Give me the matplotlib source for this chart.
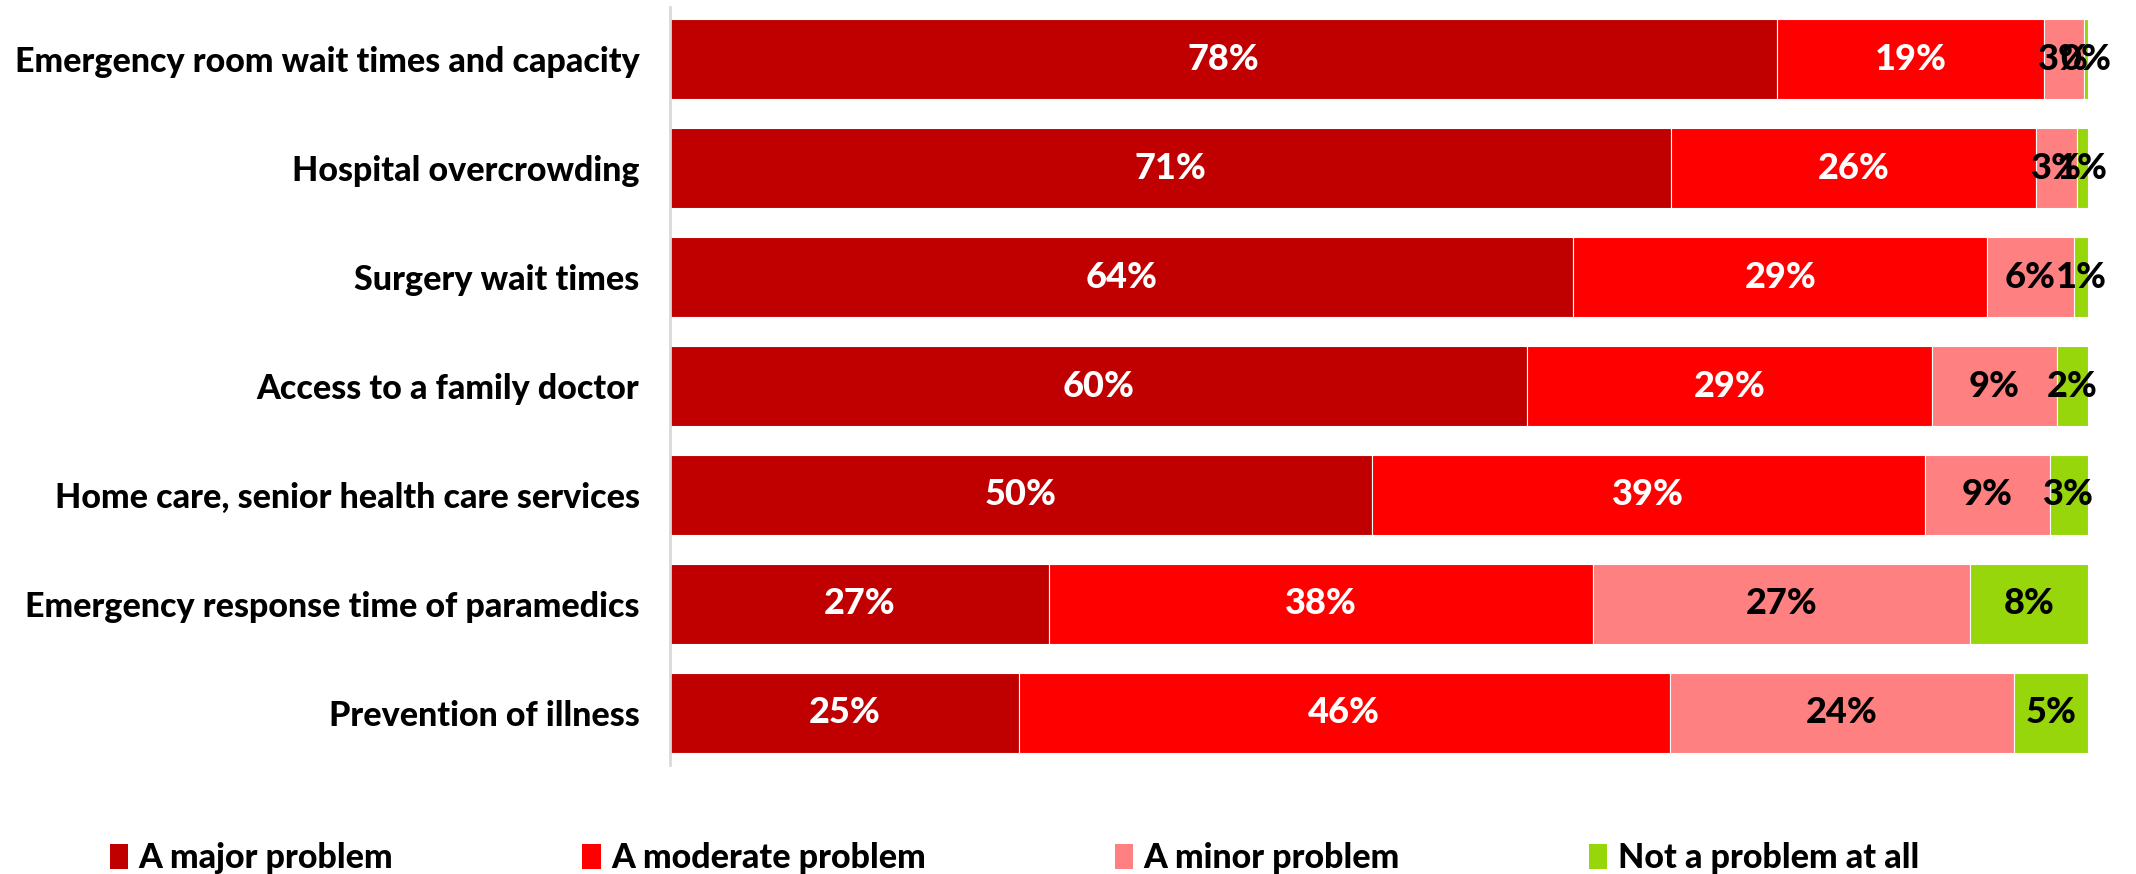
import matplotlib.pyplot as plt
import numpy as np

categories = [
    "Emergency room wait times and capacity",
    "Hospital overcrowding",
    "Surgery wait times",
    "Access to a family doctor",
    "Home care, senior health care services",
    "Emergency response time of paramedics",
    "Prevention of illness",
]
# shares (labels are the rounded values)
major = [78.1, 70.6, 63.7, 60.4, 49.5, 26.7, 24.6]
moderate = [18.8, 25.7, 29.2, 28.6, 39.0, 38.4, 45.9]
minor = [2.8, 2.9, 6.1, 8.8, 8.8, 26.6, 24.3]
not_at_all = [0.3, 0.8, 1.0, 2.2, 2.7, 8.3, 5.2]

series_names = ["A major problem", "A moderate problem", "A minor problem", "Not a problem at all"]
colors = ["#C00000", "#FF0000", "#FF8080", "#96D60A"]
text_colors = ["white", "white", "black", "black"]

plt.rcParams['font.family'] = ['Lato', 'DejaVu Sans']

fig = plt.figure(figsize=(21.36, 8.74), dpi=100)
ax = fig.add_axes([0.3137, 0.1247, 0.6645, 0.8673])

y = np.arange(len(categories))
left = np.zeros(len(categories))
for vals, name, col, tcol in zip([major, moderate, minor, not_at_all], series_names, colors, text_colors):
    vals = np.array(vals, dtype=float)
    ax.barh(y, vals, left=left, height=0.737, color=col, edgecolor='white',
            linewidth=0.8, label=name)
    for yi, l, v in zip(y, left, vals):
        ax.text(l + v / 2, yi, f"{round(v)}%", ha='center', va='center',
                color=tcol, fontsize=26, fontweight='black')
    left += vals

ax.set_ylim(len(categories) - 0.52, -0.48)
ax.set_xlim(0, 100.1)
ax.set_yticks(y)
ax.set_yticklabels(categories, fontsize=24.5, fontweight='black')
ax.tick_params(axis='y', length=0, pad=22)
ax.set_xticks([])
for s in ['top', 'right', 'bottom']:
    ax.spines[s].set_visible(False)
ax.spines['left'].set_color('#D9D9D9')
ax.spines['left'].set_linewidth(2)

leg = fig.legend(loc='lower left', bbox_to_anchor=(0.037, -0.035), ncol=4, frameon=False,
                 prop={'size': 24.5, 'weight': 'black'}, handlelength=0.55, handleheight=0.75,
                 handletextpad=0.3, columnspacing=5.55)
for h in leg.legend_handles:
    h.set_edgecolor('none')

fig.savefig('out.png', dpi=100)
